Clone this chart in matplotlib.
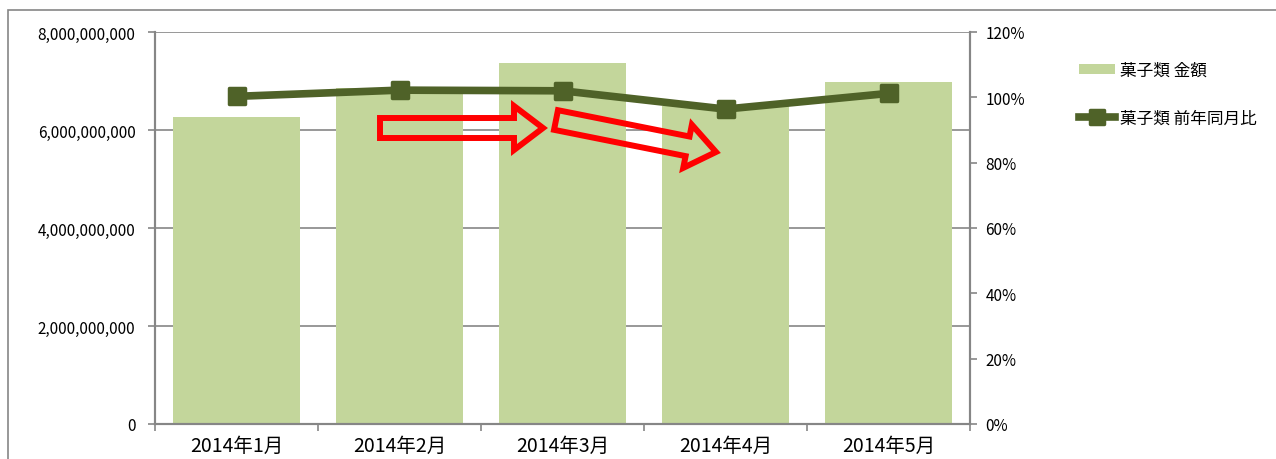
import matplotlib
matplotlib.use("Agg")
import matplotlib.pyplot as plt
from matplotlib.markers import MarkerStyle
from matplotlib.patches import FancyArrow, Rectangle, Patch
from matplotlib.lines import Line2D

plt.rcParams["font.family"] = ["Noto Sans CJK JP", "DejaVu Sans"]

# Data
months = ["2014年1月", "2014年2月", "2014年3月", "2014年4月", "2014年5月"]
amount = [6.26e9, 6.86e9, 7.37e9, 6.49e9, 6.97e9]  # 菓子類 金額
yoy = [1.003, 1.022, 1.020, 0.964, 1.012]  # 菓子類 前年同月比
bar_label = "菓子類 金額"
line_label = "菓子類 前年同月比"

bar_color = "#C3D69B"
line_color = "#4F6228"
axis_gray = "#868686"

W, H = 1276, 460
fig = plt.figure(figsize=(W / 100, H / 100), dpi=100)
ax = fig.add_axes([155 / W, 35 / H, 815 / W, 392 / H])

x = list(range(len(months)))
ax.bar(x, amount, width=0.78, color=bar_color, zorder=2)
ax.set_xlim(-0.5, len(months) - 0.5)
ax.set_ylim(0, 8e9)
ax.set_yticks([0, 2e9, 4e9, 6e9, 8e9])
ax.yaxis.set_major_formatter(plt.FuncFormatter(lambda v, _: f"{v:,.0f}"))
ax.grid(True, axis="y", color=axis_gray, linewidth=1.2, zorder=0)
ax.set_axisbelow(True)

ax.set_xticks(x)
ax.set_xticklabels(months, fontsize=14)
ax.set_xticks([i + 0.5 for i in range(-1, len(months))], minor=True)
ax.tick_params(axis="x", which="major", length=0, pad=8)
ax.tick_params(axis="x", which="minor", length=5, color=axis_gray, width=1.2)
ax.tick_params(axis="y", length=5, color=axis_gray, width=1.2, labelsize=11, pad=9)

for side in ["left", "bottom", "right"]:
    ax.spines[side].set_color(axis_gray)
    ax.spines[side].set_linewidth(1.5)
ax.spines["top"].set_visible(False)

ax2 = ax.twinx()
ax2.plot(x, yoy, color=line_color, linewidth=5.5,
         marker=MarkerStyle("s", joinstyle="round"), markersize=11,
         markeredgewidth=2.5, markerfacecolor=line_color,
         markeredgecolor=line_color, solid_capstyle="round", zorder=3)
ax2.set_ylim(0, 1.2)
ax2.set_yticks([0, 0.2, 0.4, 0.6, 0.8, 1.0, 1.2])
ax2.yaxis.set_major_formatter(plt.FuncFormatter(lambda v, _: f"{v * 100:.0f}%"))
ax2.tick_params(axis="y", length=5, color=axis_gray, width=1.2, labelsize=11, pad=6)
for side in ["left", "bottom", "right"]:
    ax2.spines[side].set_color(axis_gray)
    ax2.spines[side].set_linewidth(1.5)
ax2.spines["top"].set_visible(False)

# Legend
handles = [
    Patch(facecolor=bar_color, edgecolor="none"),
    Line2D([0], [0], color=line_color, linewidth=5.5,
           marker=MarkerStyle("s", joinstyle="round"), markersize=10,
           markeredgewidth=2.5),
]
fig.legend(handles, [bar_label, line_label], loc="upper left",
           bbox_to_anchor=(1072 / W, 1 - 56 / H), frameon=False,
           fontsize=12, handlelength=2.2, handleheight=0.6,
           handletextpad=0.25, labelspacing=1.85, numpoints=1,
           borderaxespad=0)

# Red outline arrows (annotation, in pixel coords)
def px(xp, yp):
    return xp, H - yp

for (x0, y0), (x1, y1) in [((380, 129), (543, 129)), ((556, 121), (716, 153))]:
    sx, sy = px(x0, y0)
    ex, ey = px(x1, y1)
    arr = FancyArrow(sx, sy, ex - sx, ey - sy, width=20, head_width=44,
                     head_length=29, length_includes_head=True,
                     facecolor="none", edgecolor="#FF0000", linewidth=4.3,
                     joinstyle="miter", transform=None, zorder=10)
    fig.patches.append(arr)
    arr.set_figure(fig)

# Outer chart-area border
border = Rectangle((8 / W, -0.1), 1.2, 1.1 - 11 / H, transform=fig.transFigure,
                   facecolor="none", edgecolor=axis_gray, linewidth=1.2)
fig.patches.append(border)

fig.savefig("out.png", dpi=100)
